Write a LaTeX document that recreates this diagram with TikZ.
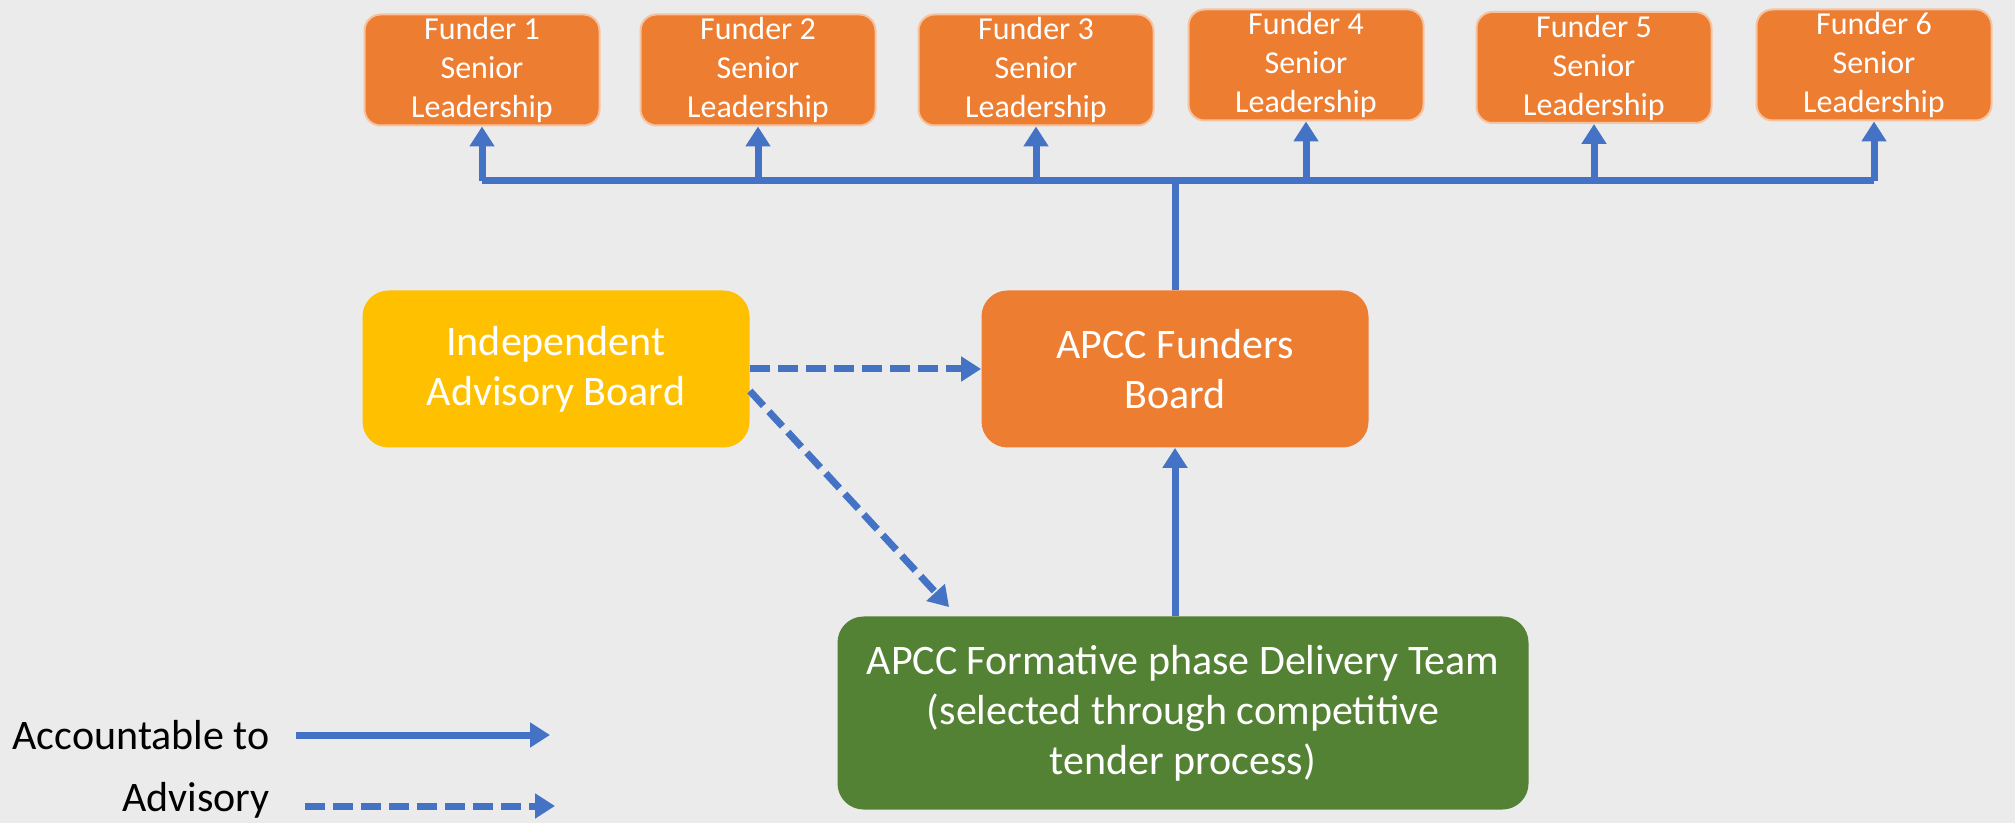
\documentclass[tikz,border=0pt]{standalone}
\usepackage{fontspec}
\setmainfont{Carlito}
\usetikzlibrary{arrows.meta}
\definecolor{bgGray}{HTML}{EBEBEB}
\definecolor{boxOrange}{HTML}{ED7D31}
\definecolor{edgeOrange}{HTML}{F6C3A0}
\definecolor{boxYellow}{HTML}{FFC000}
\definecolor{boxGreen}{HTML}{548235}
\definecolor{lineBlue}{HTML}{4472C4}
\begin{document}
\begin{tikzpicture}[x=0.5pt,y=-0.5pt,
  funder/.style={fill=boxOrange,draw=edgeOrange,line width=1pt,rounded corners=8pt,
    minimum width=117.5pt,minimum height=55.5pt,inner sep=0pt,text=white,align=center,
    font=\fontsize{16}{19.5}\selectfont},
  bigbox/.style={rounded corners=13pt,minimum width=193.5pt,minimum height=78.5pt,
    inner sep=0pt,text=white,align=center,font=\fontsize{21}{25}\selectfont},
  legendtext/.style={anchor=east,inner sep=0pt,font=\fontsize{21}{25}\selectfont},
  link/.style={draw=lineBlue,line width=3.5pt},
  acc/.style={link,-{Triangle[width=12pt,length=10pt]}},
  adv/.style={acc,dash pattern=on 10pt off 4pt}]
\fill[bgGray] (0,0) rectangle (2015,823);
\useasboundingbox (0,0) rectangle (2015,823);
\node[funder] (f1) at (482,70) {Funder 1\\Senior\\Leadership};
\node[funder] (f2) at (758,70) {Funder 2\\Senior\\Leadership};
\node[funder] (f3) at (1036,70) {Funder 3\\Senior\\Leadership};
\node[funder] (f4) at (1306,65) {Funder 4\\Senior\\Leadership};
\node[funder] (f5) at (1594,67.5) {Funder 5\\Senior\\Leadership};
\node[funder] (f6) at (1874,65) {Funder 6\\Senior\\Leadership};
\node[bigbox,fill=boxYellow] (iab) at (556,369) {Independent\\Advisory Board};
\node[bigbox,fill=boxOrange] (fb) at (1175,369) {APCC Funders\\Board};
\node[bigbox,fill=boxGreen,minimum width=345.5pt,minimum height=96.5pt] (dt) at (1183,713)
  {APCC Formative phase Delivery Team\\(selected through competitive\\tender process)};
\coordinate (bus) at (1175,181);
\draw[link] (f1.south |- bus) -- (f6.south |- bus);
\draw[link] (fb.north) -- (fb.north |- bus);
\foreach \f in {f1,f2,f3,f4,f5,f6}
  \draw[acc] (\f.south |- bus) -- (\f.south);
\draw[acc] (fb.south |- dt.north) -- (fb.south);
\draw[adv] (iab.east) -- (fb.west);
\draw[adv] ([yshift=-11pt]iab.east) -- ([xshift=56pt,yshift=4.5pt]dt.north west);
\node[legendtext] (accText) at (270,735) {Accountable to};
\node[legendtext] (advText) at (270,800) {Advisory};
\coordinate (accEnd) at (550,735);
\coordinate (advEnd) at (555,806);
\draw[acc] ([xshift=13pt]accText.east) -- (accEnd);
\draw[adv] ([xshift=17.5pt]advText.east |- advEnd) -- (advEnd);
\end{tikzpicture}
\end{document}
